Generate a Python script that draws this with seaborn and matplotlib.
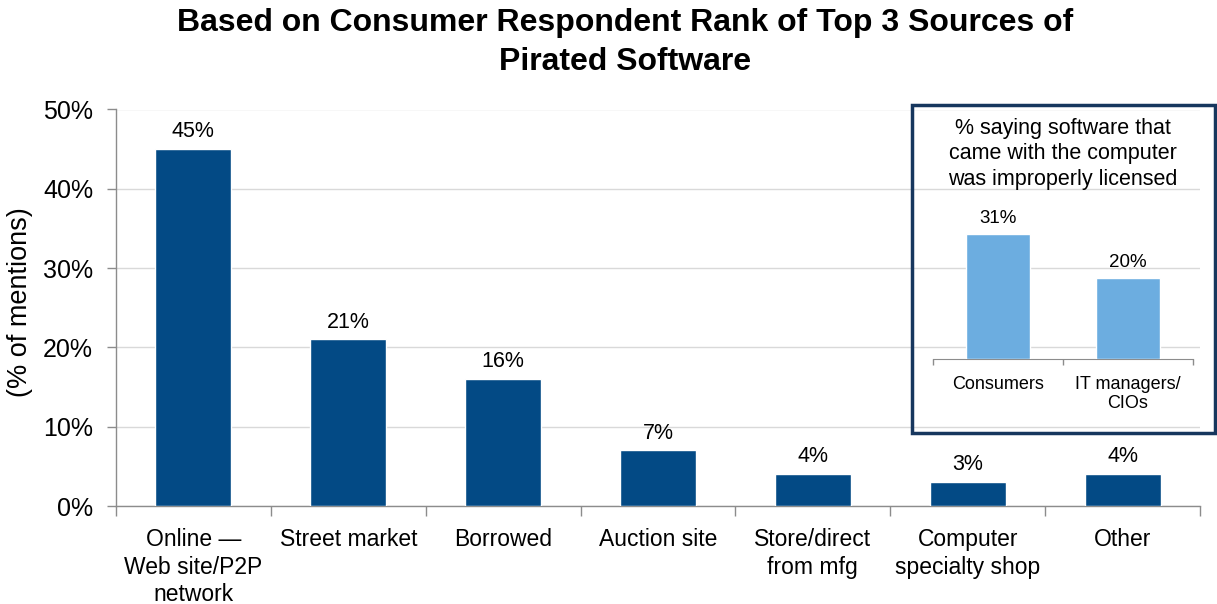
import numpy as np
import pandas as pd
import matplotlib
matplotlib.use("Agg")
import matplotlib.pyplot as plt
from matplotlib.patches import Rectangle
from matplotlib.ticker import FuncFormatter
import seaborn as sns

# Sources of pirated software, % of mentions
sources = ["Online \u2014\nWeb site/P2P\nnetwork", "Street market", "Borrowed",
           "Auction site", "Store/direct\nfrom mfg", "Computer\nspecialty shop", "Other"]
mentions = [45, 21, 16, 7, 4, 3, 4]

# Improperly licensed pre-installed software, % saying so
groups = ["Consumers", "IT managers/\nCIOs"]
improper = [31, 20]

yticks = [0, 10, 20, 30, 40, 50]

MAIN_BLUE = "#034A85"
LIGHT_BLUE = "#6CADE0"
NAVY = "#17375E"
SPINE = "#8C8C8C"
GRID = "#D9D9D9"

sns.set_style("white")
plt.rcParams["font.family"] = ["Liberation Sans", "DejaVu Sans"]
plt.rcParams["text.color"] = "black"
plt.rcParams["axes.labelcolor"] = "black"
plt.rcParams["xtick.labelcolor"] = "black"
plt.rcParams["ytick.labelcolor"] = "black"

W, H = 1217, 604
fig = plt.figure(figsize=(W / 100, H / 100), dpi=100)


def fx(px):
    return px / W


def fy(py):
    return 1 - py / H


# ---- main chart ----
ax = fig.add_axes([fx(116), fy(506), fx(1200) - fx(116), fy(109.5) - fy(506)])
df = pd.DataFrame({"source": sources, "mentions": mentions})
sns.barplot(data=df, x="source", y="mentions", color=MAIN_BLUE, width=0.49,
            saturation=1, ax=ax, zorder=3)
ax.set_ylim(0, 50)
ax.set_xlim(-0.5, len(sources) - 0.5)
ax.set_yticks(yticks)
ax.yaxis.set_major_formatter(FuncFormatter(lambda v, _: f"{v:.0f}%"))
ax.yaxis.grid(True, color=GRID, lw=1, zorder=0)
ax.set_axisbelow(True)
for s in ["top", "right"]:
    ax.spines[s].set_visible(False)
for s in ["left", "bottom"]:
    ax.spines[s].set_color(SPINE)
    ax.spines[s].set_linewidth(1)
ax.tick_params(axis="y", which="major", direction="out", length=6.5, width=1,
               color=SPINE, pad=10, labelsize=18, left=True)
ax.set_xticks(np.arange(len(sources)))
ax.set_xticklabels(sources, fontsize=16.5, linespacing=1.25)
ax.set_xticks(np.arange(-0.5, len(sources), 1), minor=True)
ax.tick_params(axis="x", which="major", length=0, pad=16)
ax.tick_params(axis="x", which="minor", direction="out", length=7, width=1,
               color=SPINE, bottom=True)
ax.set_xlabel("")
ax.set_ylabel("(% of mentions)", fontsize=19.5, va="center")
ax.yaxis.set_label_coords((20 - 116) / 1084, 0.514)

for i, v in enumerate(mentions):
    ax.annotate(f"{v}%", (i, v), xytext=(0, 8.5), textcoords="offset points",
                ha="center", va="baseline", fontsize=15.5)

# ---- inset chart ----
axin = fig.add_axes([fx(933), fy(359), fx(1193) - fx(933), fy(197.4) - fy(359)])
axin.set_facecolor("none")
dfi = pd.DataFrame({"group": groups, "improper": improper})
sns.barplot(data=dfi, x="group", y="improper", color=LIGHT_BLUE, width=0.49,
            saturation=1, ax=axin, zorder=3)
axin.set_ylim(0, 40)
axin.set_xlim(-0.5, len(groups) - 0.5)
for s in ["top", "right", "left"]:
    axin.spines[s].set_visible(False)
axin.spines["bottom"].set_color(SPINE)
axin.set_yticks([])
axin.set_xticks(np.arange(len(groups)))
axin.set_xticklabels(groups, fontsize=13, linespacing=1.15)
axin.set_xticks(np.arange(-0.5, len(groups), 1), minor=True)
axin.tick_params(axis="x", which="major", length=0, pad=12)
axin.tick_params(axis="x", which="minor", direction="out", length=4.5, width=1,
                 color=SPINE, bottom=True)
axin.set_xlabel("")
axin.set_ylabel("")
for i, v in enumerate(improper):
    axin.annotate(f"{v}%", (i, v), xytext=(0, 8), textcoords="offset points",
                  ha="center", va="baseline", fontsize=13.5, annotation_clip=False)

fig.text(fx(1063), fy(118), "% saying software that\ncame with the computer\nwas improperly licensed",
         ha="center", va="top", fontsize=15.5, linespacing=1.27)
fig.add_artist(Rectangle((fx(912), fy(433)), fx(1215) - fx(912), fy(105) - fy(433),
                         transform=fig.transFigure, fill=False, edgecolor=NAVY,
                         linewidth=2.5))

# ---- title ----
fig.text(fx(625), fy(8), "Based on Consumer Respondent Rank of Top 3 Sources of\nPirated Software",
         ha="center", va="top", fontsize=23, fontweight="bold", linespacing=1.38)

fig.savefig("out.png", dpi=100)
